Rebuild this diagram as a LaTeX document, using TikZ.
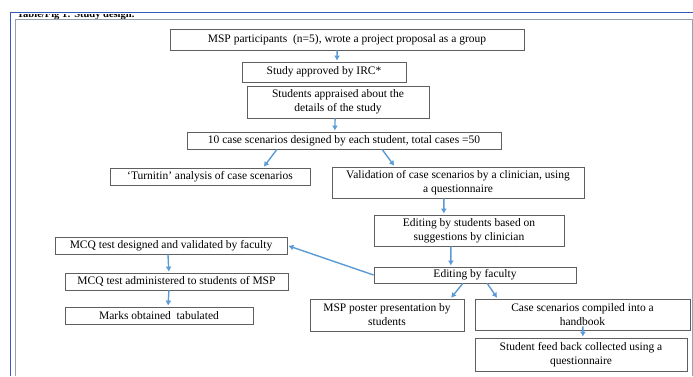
\documentclass[tikz,border=0pt]{standalone}
\usepackage{fontspec}
\setmainfont{Liberation Serif}
\usetikzlibrary{arrows.meta,calc}
\definecolor{flowblue}{RGB}{91,155,213}
\definecolor{boxgrey}{RGB}{95,95,95}
\definecolor{frameblue}{RGB}{50,90,185}
\definecolor{framegrey}{RGB}{150,160,175}

\begin{document}
\begin{tikzpicture}[
  x=1pt, y=-1pt,
  flow arrow/.style={
  arrows = {-Latex[length=5pt,width=6pt]},
  draw=flowblue,
  line width=1.4pt,
  shorten >= 1pt
  },
  box/.style={
      draw=boxgrey,
      line width=0.8pt,
      inner sep=0pt,
      align=center,
      font=\fontsize{11.5}{14}\selectfont
    },
  frame/.style={
      line width=1pt
    }]
  \useasboundingbox (0,0) rectangle (693,376);

  % page frame
  \draw [frame, frameblue] (10.5,376) -- (10.5,12.5) -- (693,12.5);
  \draw [frame, framegrey] (15,376) -- (15,19) -- (692,19) -- (692,376);
  \begin{scope}
    \clip (15.5,14.5) rectangle (691,18.5);
    \node [anchor=base west, inner sep=0pt, font=\fontsize{10.5}{12}\selectfont\bfseries] (title) at (17,17.5) {Table/Fig 1: Study design.};
  \end{scope}

  % boxes
  \node [box, minimum width=354, minimum height=21] (proposal) at (347,39.5) {MSP participants\ \ (n=5), wrote a project proposal as a group};
  \node [box, minimum width=164, minimum height=20] (irc) at (324,72) {Study approved by IRC*};
  \node [box, minimum width=182, minimum height=32] (appraise) at (338,102) {Students appraised about the\\ details of the study};
  \node [box, minimum width=314, minimum height=17] (design) at (344,140.5) {10 case scenarios designed by each student, total cases =50};
  \node [box, minimum width=200, minimum height=17] (turnitin) at (210,176.5) {`Turnitin' analysis of case scenarios};
  \node [box, minimum width=252, minimum height=31] (validate) at (458,182.5) {Validation of case scenarios by a clinician, using\\ a questionnaire};
  \node [box, minimum width=190, minimum height=31] (editstud) at (469,230.5) {Editing by students based on\\ suggestions by clinician};
  \node [box, minimum width=202, minimum height=16] (editfac) at (475,275) {Editing by faculty};
  \node [box, minimum width=232, minimum height=17] (mcqdesign) at (171,245.5) {MCQ test designed and validated by faculty};
  \node [box, minimum width=223, minimum height=17] (mcqadmin) at (176.5,281.5) {MCQ test administered to students of MSP};
  \node [box, minimum width=188, minimum height=17] (marks) at (159,315.5) {Marks obtained\ \ tabulated};
  \node [box, minimum width=154, minimum height=32] (poster) at (387,315) {MSP poster presentation by\\ students};
  \node [box, minimum width=215, minimum height=31] (handbook) at (582.5,314.5) {Case scenarios compiled into a\\ handbook};
  \node [box, minimum width=212, minimum height=33] (feedback) at (581,354.5) {Student feed back collected using a\\ questionnaire};

  % arrows
  \draw [flow arrow] ($(proposal.south west)!0.472!(proposal.south east)$) -- ($(irc.north west)!0.579!(irc.north east)$);
  \draw [flow arrow] ($(appraise.south west)!0.484!(appraise.south east)$) -- ($(design.north west)!0.471!(design.north east)$);
  \draw [flow arrow] ($(design.south west)!0.287!(design.south east)$) -- ($(turnitin.north west)!0.765!(turnitin.north east)$);
  \draw [flow arrow] ($(design.south west)!0.621!(design.south east)$) -- ($(validate.north west)!0.25!(validate.north east)$);
  \draw [flow arrow] ($(validate.south west)!0.444!(validate.south east)$) -- ($(editstud.north west)!0.368!(editstud.north east)$);
  \draw [flow arrow] ($(editstud.south west)!0.405!(editstud.south east)$) -- ($(editfac.north west)!0.381!(editfac.north east)$);
  \draw [flow arrow] (editfac.west) -- (mcqdesign.east);
  \draw [flow arrow] ($(mcqdesign.south west)!0.487!(mcqdesign.south east)$) -- ($(mcqadmin.north west)!0.466!(mcqadmin.north east)$);
  \draw [flow arrow] ($(mcqadmin.south west)!0.466!(mcqadmin.south east)$) -- ($(marks.north west)!0.548!(marks.north east)$);
  \draw [flow arrow] ($(editfac.south west)!0.44!(editfac.south east)$) -- ($(poster.north west)!0.91!(poster.north east)$);
  \draw [flow arrow] ($(editfac.south west)!0.56!(editfac.south east)$) -- ($(handbook.north west)!0.107!(handbook.north east)$);
  \draw [flow arrow] ($(handbook.south west)!0.502!(handbook.south east) + (0,-4)$) -- ($(feedback.north west)!0.509!(feedback.north east)$);
\end{tikzpicture}
\end{document}
